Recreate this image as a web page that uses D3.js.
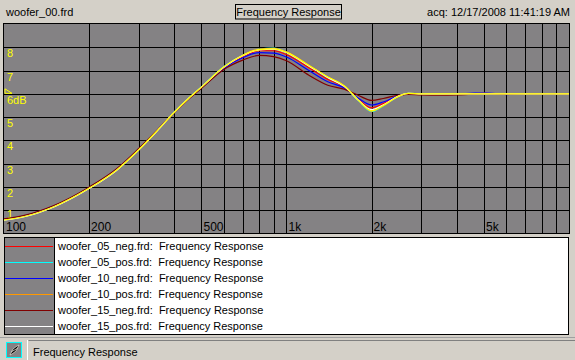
<!DOCTYPE html>
<html>
<head>
<meta charset="utf-8">
<script src="https://cdn.jsdelivr.net/npm/d3@7"></script>
<style>
body { margin: 0; background: #d4d0c8; }
text { font-family: "Liberation Sans", Arial, sans-serif; }
</style>
</head>
<body>
<script>
// frequencies (Hz)
const freqs = [100, 120, 150, 200, 250, 300, 350, 400, 450, 500, 600, 700, 800, 900, 1000,
  1200, 1400, 1600, 1800, 2000, 2200, 2500, 2700, 3000, 3500, 4000, 5000, 6000, 7000, 8000, 10000];

// dB values per trace
const woofer00 = [0.58, 0.75, 1.15, 1.94, 2.72, 3.6, 4.44, 5.2, 5.8, 6.29, 7.15, 7.65, 7.9, 7.93, 7.78,
  7.22, 6.72, 6.35, 5.72, 5.27, 5.5, 5.9, 6.02, 6.0, 6.0, 6.0, 6.0, 6.0, 6.0, 6.0, 6.0];
const neg05 = [0.6, 0.77, 1.17, 1.96, 2.74, 3.62, 4.45, 5.2, 5.8, 6.28, 7.13, 7.6, 7.85, 7.85, 7.68,
  7.12, 6.62, 6.3, 5.75, 5.4, 5.58, 5.92, 6.0, 5.98, 5.98, 6.0, 6.0, 5.98, 6.0, 6.0, 6.0];
const pos05 = [0.58, 0.75, 1.15, 1.94, 2.72, 3.6, 4.44, 5.21, 5.81, 6.3, 7.16, 7.66, 7.92, 7.96, 7.8,
  7.22, 6.7, 6.33, 5.7, 5.24, 5.48, 5.9, 6.02, 6.0, 6.0, 6.0, 6.0, 6.0, 6.0, 6.0, 6.0];
const neg10 = [0.61, 0.78, 1.18, 1.97, 2.75, 3.63, 4.45, 5.2, 5.79, 6.27, 7.1, 7.55, 7.77, 7.75, 7.58,
  7.0, 6.52, 6.25, 5.8, 5.52, 5.65, 5.93, 6.0, 6.0, 6.0, 6.0, 6.04, 5.97, 6.0, 6.0, 6.0];
const pos10 = [0.58, 0.75, 1.15, 1.94, 2.72, 3.6, 4.44, 5.2, 5.8, 6.29, 7.15, 7.66, 7.92, 7.95, 7.8,
  7.23, 6.72, 6.34, 5.71, 5.26, 5.49, 5.9, 6.02, 6.0, 6.0, 6.0, 6.02, 6.0, 6.0, 6.0, 6.0];
const neg15 = [0.63, 0.8, 1.2, 1.99, 2.77, 3.65, 4.46, 5.19, 5.77, 6.24, 7.05, 7.45, 7.65, 7.6, 7.42,
  6.8, 6.37, 6.2, 5.93, 5.72, 5.8, 5.95, 5.98, 5.95, 5.94, 5.95, 6.0, 5.98, 6.0, 6.0, 6.0];
const pos15 = [0.57, 0.74, 1.14, 1.93, 2.71, 3.59, 4.43, 5.2, 5.8, 6.29, 7.14, 7.64, 7.89, 7.92, 7.77,
  7.2, 6.7, 6.32, 5.72, 5.32, 5.52, 5.91, 6.02, 6.0, 6.0, 6.0, 6.0, 6.0, 6.0, 6.0, 6.0];

const legendNames = ["woofer_05_neg.frd:", "woofer_05_pos.frd:", "woofer_10_neg.frd:",
  "woofer_10_pos.frd:", "woofer_15_neg.frd:", "woofer_15_pos.frd:"];
const legendColors = ["#ff0000", "#00ffff", "#0000ff", "#ff9900", "#800000", "#ffffff"];
const legendValues = [neg05, pos05, neg10, pos10, neg15, pos15];

const xGrid = [200, 300, 400, 500, 600, 700, 800, 900, 1000, 2000, 3000, 4000, 5000, 6000, 7000, 8000, 9000];
const xTickVals = [100, 200, 500, 1000, 2000, 5000];
const xTickText = ["100", "200", "500", "1k", "2k", "5k"];
const yGrid = [1, 2, 3, 4, 5, 6, 7, 8];
const yTickText = ["1", "2", "3", "4", "5", "6dB", "7", "8"];

const W = 575, H = 360;
const svg = d3.select("body").append("svg").attr("width", W).attr("height", H);

const x = d3.scaleLog().domain([100, 10000]).range([4, 569]);
const y = d3.scaleLinear().domain([0, 9]).range([233.5, 24]);

// header
svg.append("text").attr("x", 6).attr("y", 16).attr("font-size", 11).text("woofer_00.frd");
svg.append("rect").attr("x", 235.5).attr("y", 4.5).attr("width", 106).attr("height", 14.5)
  .attr("fill", "none").attr("stroke", "#000");
svg.append("text").attr("x", 288.5).attr("y", 16).attr("font-size", 11).attr("text-anchor", "middle")
  .text("Frequency Response");
svg.append("text").attr("x", 570).attr("y", 16).attr("font-size", 11).attr("text-anchor", "end")
  .text("acq: 12/17/2008 11:41:19 AM");

// plot area
svg.append("rect").attr("x", 4).attr("y", 24).attr("width", 565).attr("height", 209.5)
  .attr("fill", "#848284");
const grid = svg.append("g").attr("stroke", "#000").attr("shape-rendering", "crispEdges");
grid.selectAll(".vx").data(xGrid).join("line")
  .attr("x1", d => Math.round(x(d)) + 0.5).attr("x2", d => Math.round(x(d)) + 0.5)
  .attr("y1", 24).attr("y2", 233.5);
grid.selectAll(".hy").data(yGrid).join("line")
  .attr("y1", d => Math.round(y(d)) + 0.5).attr("y2", d => Math.round(y(d)) + 0.5)
  .attr("x1", 4).attr("x2", 569);
svg.append("rect").attr("x", 3.5).attr("y", 23.5).attr("width", 566).attr("height", 210)
  .attr("fill", "none").attr("stroke", "#000").attr("shape-rendering", "crispEdges");

// y labels
svg.append("g").selectAll("text").data(yGrid).join("text")
  .attr("x", 7).attr("y", d => y(d) + (d === 1 ? 8 : 10)).attr("font-size", 11).attr("fill", "#ffff00")
  .text((d, i) => yTickText[i]);
// reference marker at 6dB
svg.append("path")
  .attr("d", `M5,${y(6) - 0.5} L5,${y(6) - 5} L12,${y(6) - 0.5} Z`)
  .attr("fill", "none").attr("stroke", "#ffff00").attr("stroke-width", 1);

// x labels
svg.append("g").selectAll("text").data(xTickVals).join("text")
  .attr("x", d => x(d) + 2).attr("y", 231).attr("font-size", 12).attr("fill", "#000")
  .text((d, i) => xTickText[i]);

// traces
const line = d3.line().x((d, i) => x(freqs[i])).y(d => y(d)).curve(d3.curveMonotoneX);
const traces = svg.append("g").attr("fill", "none").attr("stroke-width", 1.2);
legendValues.forEach((vals, k) => {
  traces.append("path").attr("d", line(vals)).attr("stroke", legendColors[k]);
});
traces.append("path").attr("d", line(woofer00)).attr("stroke", "#ffff00");

// legend
svg.append("rect").attr("x", 4.5).attr("y", 237.5).attr("width", 50).attr("height", 97)
  .attr("fill", "#848284");
svg.append("rect").attr("x", 54.5).attr("y", 237.5).attr("width", 514).attr("height", 97)
  .attr("fill", "#fff");
svg.append("rect").attr("x", 4.5).attr("y", 237.5).attr("width", 564).attr("height", 97)
  .attr("fill", "none").attr("stroke", "#000");
svg.append("line").attr("x1", 54.5).attr("x2", 54.5).attr("y1", 237.5).attr("y2", 334.5).attr("stroke", "#000");
const rowY = d3.scaleLinear().domain([0, 5]).range([246, 326]);
const lg = svg.append("g");
lg.selectAll("line").data(legendNames).join("line")
  .attr("x1", 5).attr("x2", 53).attr("y1", (d, i) => Math.round(rowY(i)) + 0.5).attr("y2", (d, i) => Math.round(rowY(i)) + 0.5)
  .attr("stroke", (d, i) => legendColors[i]);
lg.selectAll("text").data(legendNames).join("text")
  .attr("x", 58).attr("y", (d, i) => rowY(i) + 4).attr("font-size", 11)
  .attr("xml:space", "preserve")
  .text(d => d + "  Frequency Response");

// status bar
svg.append("line").attr("x1", 0).attr("x2", W).attr("y1", 337.5).attr("y2", 337.5).attr("stroke", "#a0a0a0");
svg.append("rect").attr("x", 6.5).attr("y", 342.5).attr("width", 15).attr("height", 15)
  .attr("fill", "#848284").attr("stroke", "#00ffff");
svg.append("path").attr("d", "M10,355 L13,349 L17,346 L19,345 L16,351 L12,354 Z M11,352 L18,348")
  .attr("fill", "#000").attr("stroke", "#d4d0c8").attr("stroke-width", 0.8);
svg.append("line").attr("x1", 27.5).attr("x2", 27.5).attr("y1", 340).attr("y2", 360).attr("stroke", "#fff");
svg.append("line").attr("x1", 28.5).attr("x2", W).attr("y1", 340.5).attr("y2", 340.5).attr("stroke", "#808080");
svg.append("text").attr("x", 33).attr("y", 356).attr("font-size", 11).text("Frequency Response");
</script>
</body>
</html>
